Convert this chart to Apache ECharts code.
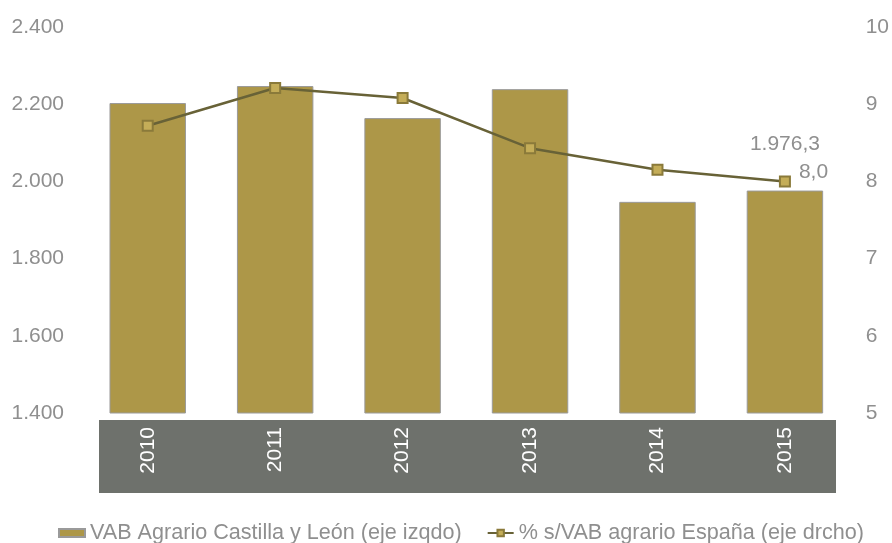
<!DOCTYPE html>
<html>
<head>
<meta charset="utf-8">
<script src="https://cdn.jsdelivr.net/npm/echarts@6/dist/echarts.min.js"></script>
<style>
  html, body { margin: 0; padding: 0; background: #fff; }
  #chart { width: 892px; height: 543px; }
</style>
</head>
<body>
<div id="chart"></div>
<script>
  // datos
  var years = ['2010', '2011', '2012', '2013', '2014', '2015'];
  var vabCyL = [2203, 2247, 2164, 2239, 1947, 1976.3];      // millones, eje izqdo
  var pctEspana = [8.72, 9.21, 9.08, 8.43, 8.15, 8.0];      // %, eje drcho
  var leftTicks = [1400, 1600, 1800, 2000, 2200, 2400];
  var rightTicks = [5, 6, 7, 8, 9, 10];

  var gray = '#8f8f8f';
  var fontFam = '"Liberation Sans", Arial, sans-serif';

  function fmtEs(v, dec) {
    var s = v.toFixed(dec).split('.');
    var ent = s[0].replace(/\B(?=(\d{3})+(?!\d))/g, '.');
    return s.length > 1 ? ent + ',' + s[1] : ent;
  }

  var chart = echarts.init(document.getElementById('chart'));
  var option = {
    animation: false,
    textStyle: { fontFamily: fontFam },
    grid: { left: 84, right: 43, top: 27, bottom: 130 },
    graphic: [{
      type: 'rect',
      z: -1,
      shape: { x: 99, y: 420, width: 737, height: 73 },
      style: { fill: '#6e716c' }
    }],
    legend: {
      left: 53,
      top: 517,
      itemWidth: 26,
      itemHeight: 8,
      itemGap: 25,
      textStyle: { color: gray, fontSize: 21.6, fontFamily: fontFam },
      data: [
        { name: 'VAB Agrario Castilla y León (eje izqdo)', icon: 'rect' },
        { name: '% s/VAB agrario España (eje drcho)' }
      ]
    },
    xAxis: {
      type: 'category',
      data: years,
      axisLine: { show: false },
      axisTick: { show: false },
      axisLabel: { rotate: 90, color: '#fff', fontSize: 21, margin: 14, fontFamily: fontFam }
    },
    yAxis: [{
      type: 'value',
      min: leftTicks[0],
      max: leftTicks[leftTicks.length - 1],
      interval: 200,
      splitLine: { show: false },
      axisLine: { show: false },
      axisTick: { show: false },
      axisLabel: {
        color: gray, fontSize: 21, margin: 20, fontFamily: fontFam,
        formatter: function (v) { return fmtEs(v, 0); }
      }
    }, {
      type: 'value',
      min: rightTicks[0],
      max: rightTicks[rightTicks.length - 1],
      interval: 1,
      splitLine: { show: false },
      axisLine: { show: false },
      axisTick: { show: false },
      axisLabel: { color: gray, fontSize: 21, margin: 17, fontFamily: fontFam }
    }],
    series: [{
      name: 'VAB Agrario Castilla y León (eje izqdo)',
      type: 'bar',
      barWidth: '60%',
      itemStyle: { color: '#ad9748', borderColor: '#9a9a9a', borderWidth: 1 },
      data: vabCyL.map(function (v, i) {
        var d = { value: v };
        if (i === vabCyL.length - 1) {
          d.label = {
            show: true, position: 'top', offset: [0, -31],
            color: gray, fontSize: 21, fontFamily: fontFam,
            formatter: function (p) { return fmtEs(p.value, 1); }
          };
        }
        return d;
      })
    }, {
      name: '% s/VAB agrario España (eje drcho)',
      type: 'line',
      yAxisIndex: 1,
      symbol: 'rect',
      symbolSize: 10,
      lineStyle: { color: '#686237', width: 2.5 },
      itemStyle: { color: '#c4ad58', borderColor: '#8a7a3a', borderWidth: 2 },
      data: pctEspana.map(function (v, i) {
        var d = { value: v };
        if (i === pctEspana.length - 1) {
          d.label = {
            show: true, position: 'right', offset: [3, -9],
            color: gray, fontSize: 21, fontFamily: fontFam,
            formatter: function (p) { return fmtEs(p.value, 1); }
          };
        }
        return d;
      })
    }]
  };
  chart.setOption(option);
</script>
</body>
</html>
